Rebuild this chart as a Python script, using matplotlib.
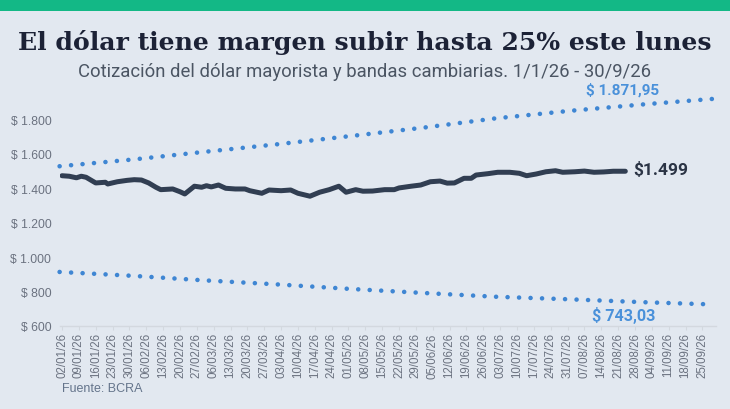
import matplotlib
matplotlib.use("Agg")
import matplotlib.pyplot as plt
import pandas as pd

# ---------------- data ----------------
dolar_fechas = [
    "2026-01-02", "2026-01-05", "2026-01-08", "2026-01-10", "2026-01-12", "2026-01-16",
    "2026-01-20", "2026-01-21", "2026-01-25", "2026-01-29", "2026-02-01", "2026-02-04",
    "2026-02-07", "2026-02-10", "2026-02-12", "2026-02-17", "2026-02-20", "2026-02-22",
    "2026-02-26", "2026-03-01", "2026-03-03", "2026-03-05", "2026-03-08", "2026-03-11",
    "2026-03-15", "2026-03-19", "2026-03-21", "2026-03-26", "2026-03-29", "2026-04-03",
    "2026-04-07", "2026-04-10", "2026-04-15", "2026-04-19", "2026-04-23", "2026-04-27",
    "2026-04-30", "2026-05-04", "2026-05-07", "2026-05-11", "2026-05-16", "2026-05-20",
    "2026-05-22", "2026-05-27", "2026-05-31", "2026-06-04", "2026-06-08", "2026-06-11",
    "2026-06-14", "2026-06-18", "2026-06-21", "2026-06-23", "2026-06-28", "2026-07-02",
    "2026-07-07", "2026-07-11", "2026-07-14", "2026-07-18", "2026-07-22", "2026-07-26",
    "2026-07-29", "2026-08-03", "2026-08-07", "2026-08-11", "2026-08-15", "2026-08-19",
    "2026-08-24",
]
dolar_valores = [
    1473, 1470, 1461, 1470, 1464, 1431,
    1435, 1425, 1438, 1446, 1450, 1448,
    1431, 1406, 1392, 1396, 1380, 1367,
    1412, 1406, 1415, 1408, 1419, 1400,
    1396, 1396, 1386, 1371, 1390, 1386,
    1390, 1371, 1354, 1377, 1392, 1412,
    1377, 1392, 1383, 1384, 1392, 1392,
    1402, 1412, 1419, 1438, 1442, 1430,
    1431, 1458, 1458, 1477, 1485, 1493,
    1493, 1487, 1473, 1483, 1496, 1502,
    1493, 1496, 1500, 1493, 1495, 1499,
    1499,
]

banda_fechas = ["2026-01-01", "2026-02-01", "2026-03-01", "2026-04-01", "2026-05-01",
                "2026-06-01", "2026-07-01", "2026-08-01", "2026-09-01", "2026-09-30"]
banda_superior = [1528, 1568, 1610, 1655, 1702, 1752, 1806, 1850, 1888, 1920]
banda_inferior = [914, 891, 866, 842, 816, 792, 770, 755, 738, 725]

y_ticks = [600, 800, 1000, 1200, 1400, 1600, 1800]
tick_inicio, tick_fin = "2026-01-02", "2026-09-25"

titulo = "El dólar tiene margen subir hasta 25% este lunes"
subtitulo = "Cotización del dólar mayorista y bandas cambiarias. 1/1/26 - 30/9/26"
etiqueta_sup = "$ 1.871,95"
etiqueta_inf = "$ 743,03"
etiqueta_dolar = "$1.499"
fuente = "Fuente: BCRA"

# ---------------- style ----------------
BG = "#e2e8f0"
GREEN = "#13b886"
LINE = "#313e52"
BAND = "#3f86d3"
BAND_LABEL = "#4a91da"
TICK = "#6b7280"

W, H = 730, 410
fig = plt.figure(figsize=(W / 100, H / 100), dpi=100, facecolor=BG)

# green top bar
fig.add_artist(plt.Rectangle((0, 1 - 12 / H), 1, 12 / H, transform=fig.transFigure,
                             color=GREEN, lw=0, zorder=0))

fig.text(0.5, 1 - 50 / H, titulo, ha="center", va="baseline",
         fontsize=18.1, fontweight="bold", family="DejaVu Serif", color="#1c2236")
fig.text(0.5, 1 - 77 / H, subtitulo, ha="center", va="baseline",
         fontsize=13.3, family="Roboto", color="#4b5563")
fig.text(62 / W, 1 - 389 / H, fuente, ha="left", va="center",
         fontsize=9, family="Liberation Sans", color="#64748b")

# axes geometry
left_px, right_px = 59.6, 715.6
bottom_px, top_px = 327, 86
ax = fig.add_axes([left_px / W, 1 - bottom_px / H, (right_px - left_px) / W,
                   (bottom_px - top_px) / H])
ax.set_facecolor("none")

dx = pd.to_datetime(dolar_fechas)
bx = pd.to_datetime(banda_fechas)

for banda in (banda_superior, banda_inferior):
    ax.plot(bx, banda, color=BAND, lw=3.3, linestyle=(0, (0.01, 2.5)),
            dash_capstyle="round", clip_on=False, zorder=2)
ax.plot(dx, dolar_valores, color=LINE, lw=3.6, solid_joinstyle="round",
        solid_capstyle="round", zorder=3)

ax.annotate(etiqueta_sup, xy=(bx[-1], banda_superior[-1]), xytext=(-66, 6.5),
            textcoords="offset points", ha="center", va="center",
            fontsize=11, fontweight="bold", family="Roboto", color=BAND_LABEL,
            annotation_clip=False)
ax.annotate(etiqueta_inf, xy=(bx[-1], banda_inferior[-1]), xytext=(-65, -7.5),
            textcoords="offset points", ha="center", va="center",
            fontsize=11.6, fontweight="bold", family="Roboto", color=BAND_LABEL,
            annotation_clip=False)
ax.annotate(etiqueta_dolar, xy=(dx[-1], dolar_valores[-1]), xytext=(5.5, 1.5),
            textcoords="offset points", ha="left", va="center",
            fontsize=12.5, fontweight="bold", family="Roboto", color="#2b3445",
            annotation_clip=False)

ax.set_xlim(pd.Timestamp("2026-01-01"), pd.Timestamp("2026-09-30") + pd.Timedelta(hours=12))
ax.set_ylim(600, 2000)

xt = pd.date_range(tick_inicio, tick_fin, freq="7D")
ax.set_xticks(xt)
ax.set_xticklabels([d.strftime("%d/%m/%y") for d in xt], rotation=90,
                   fontsize=8.3, family="Liberation Sans", color=TICK)
ax.set_yticks(y_ticks)
ax.set_yticklabels([("$ {:,}".format(v)).replace(",", ".") for v in y_ticks],
                   fontsize=8.7, family="Liberation Sans", color=TICK)

for s in ["top", "right", "left"]:
    ax.spines[s].set_visible(False)
ax.spines["bottom"].set_color("#d3d8df")
ax.spines["bottom"].set_linewidth(1.0)
ax.tick_params(axis="y", length=0, pad=6)
ax.tick_params(axis="x", length=3, width=0.8, color="#d3d8df", pad=1.5)

fig.savefig("out.png", dpi=100, facecolor=BG)
